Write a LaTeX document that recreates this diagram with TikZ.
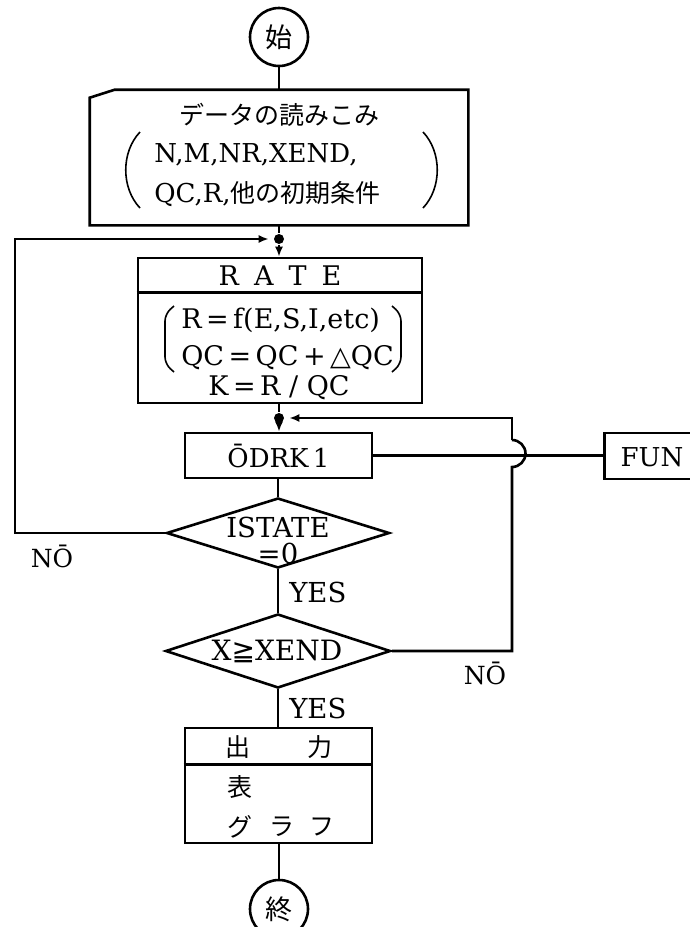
\documentclass[tikz,border=0pt]{standalone}
\usepackage{fontspec}
\setmainfont{DejaVu Serif}
\newfontfamily\jp{Noto Sans CJK JP}
\newfontfamily\symf{DejaVu Sans}
\usetikzlibrary{arrows.meta,shapes.geometric}
\newcommand{\fs}[1]{\fontsize{#1}{#1}\selectfont}
\begin{document}
\begin{tikzpicture}[x=1pt,y=-1pt,line width=2.6pt,
  term/.style={circle,draw,minimum size=58pt,inner sep=0pt,font=\jp\fs{27}},
  procbox/.style={draw,rectangle,inner sep=0pt},
  cond/.style={draw,diamond,inner sep=0pt},
  txt/.style={inner sep=0pt},
  arr/.style={-{Latex[length=10pt,width=8pt]}},
  dot/.style={circle,fill,inner sep=0pt,minimum size=10pt}]
\useasboundingbox (0,0) rectangle (690,927);

% start
\node[term] (start) at (279,37) {始};

% input box
\node[txt,minimum width=376pt,minimum height=133pt] (input) at (279,157.5) {};
\draw ([yshift=-8pt]input.north west) -- ([xshift=25pt]input.north west)
  -- (input.north east) -- (input.south east) -- (input.south west) -- cycle;
\node[txt,font=\jp\fs{25}] (t1) at (279,115) {データの読みこみ};
\node[txt,font=\fs{26},anchor=west] (t2) at (153,155) {N,M,NR,XEND,};
\node[txt,font=\fs{26},anchor=west] (t3) at (153,194) {QC,R,{\jp\fs{25}他の初期条件}};
\draw[line width=1.6pt] (140,132) .. controls (121,152) and (121,188) .. (140,208);
\draw[line width=1.6pt] (423,132) .. controls (442,152) and (442,188) .. (423,208);

% junction 1
\node[dot] (j1) at (279,239) {};

% RATE box
\node[procbox,minimum width=284pt,minimum height=145pt] (rate) at (280,330.5) {};
\path (rate.north west) ++(0,36) coordinate (rs);
\draw (rs) -- (rs -| rate.east);
\node[txt,font=\fs{27}] (rt) at (280,276) {R\hspace{15pt}A\hspace{15pt}T\hspace{15pt}E};
\node[txt,font=\fs{27},anchor=west] (r1) at (180,320) {R\,=\,f(E,S,I,etc)};
\node[txt,font=\fs{27},anchor=west] (r2) at (180,358) {QC\,=\,QC\,+\,{\symf △}QC};
\node[txt,font=\fs{27}] (r3) at (279,388) {K\,=\,R / QC};
\draw[line width=1.6pt,rounded corners=7pt] (174,306) -- (165,314) -- (165,364) -- (174,372);
\draw[line width=1.6pt,rounded corners=7pt] (392,306) -- (401,314) -- (401,364) -- (392,372);

% junction 2
\node[dot] (j2) at (279,418) {};

% ODRK1
\node[procbox,minimum width=187pt,minimum height=45pt,font=\fs{26}] (odrk) at (278.5,455.5) {ŌDRK\,1};

% FUN
\node[procbox,minimum width=92pt,minimum height=46pt,anchor=west] (fun) at (603,456) {};
\node[txt,font=\fs{26}] (funt) at (652,457) {FUN};

% decisions
\node[cond,minimum width=223pt,minimum height=70pt] (d1) at (278,533) {};
\node[txt,font=\fs{27.5}] (d1a) at (278,527) {ISTATE};
\node[txt,font=\fs{27.5}] (d1b) at (278,553) {=0};
\node[cond,minimum width=225pt,minimum height=74pt] (d2) at (278,651) {};
\node[txt,font=\fs{28}] (d2t) at (277,651) {X{\symf ≧}XEND};

% output box
\node[procbox,minimum width=187pt,minimum height=115pt] (out) at (278.5,785.5) {};
\path (out.north west) ++(0,38) coordinate (os);
\draw (os) -- (os -| out.east);
\node[txt,font=\jp\fs{25}] (o1) at (238,747) {出};
\node[txt,font=\jp\fs{25}] (o2) at (320,747) {力};
\node[txt,font=\jp\fs{25}] (o3) at (240,787) {表};
\node[txt,font=\jp\fs{25}] (o4) at (240,827) {グ};
\node[txt,font=\jp\fs{25}] (o5) at (282,827) {ラ};
\node[txt,font=\jp\fs{25}] (o6) at (322,827) {フ};

% end
\node[term] (end) at (279,909) {終};

% labels
\node[txt,font=\fs{25}] (no1) at (52,556) {NŌ};
\node[txt,font=\fs{25}] (no2) at (485,673) {NŌ};
\node[txt,font=\fs{27.5},anchor=west] (y1) at (288,592) {YES};
\node[txt,font=\fs{27.5},anchor=west] (y2) at (288,708) {YES};

% connectors
\coordinate (lc1) at (15,533);
\coordinate (lc2) at (15,239);
\coordinate (rc1) at (512,651);
\coordinate (rc2) at (512,467);
\coordinate (rc3) at (512,418);
\draw (start) -- (input.north -| start);
\draw (input.south -| j1) -- (j1);
\draw[arr] (j1) -- (rate.north -| j1);
\draw[arr,shorten >=4pt] (d1.west) -- (lc1) -- (lc2) -- (j1);
\draw (rate.south -| j2) -- (j2);
\draw[arr] (j2) -- (odrk.north -| j2);
\draw (d2.east) -- (rc1) -- (rc2) arc[start angle=-90,end angle=90,radius=13.5pt] coordinate (rc4);
\draw[arr,shorten >=4pt] (rc4) -- (rc3) -- (j2);
\draw (odrk.east) -- (odrk.east -| fun.west);
\draw (odrk.south -| d1) -- (d1.north);
\draw (d1.south) -- (d2.north);
\draw (d2.south) -- (out.north -| d2);
\draw (out.south -| end) -- (end);
\end{tikzpicture}
\end{document}
